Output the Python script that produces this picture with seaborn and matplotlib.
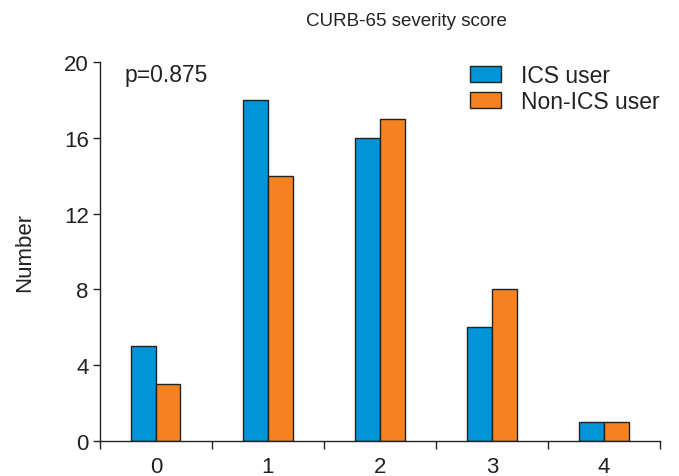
import matplotlib
matplotlib.use("Agg")
import matplotlib.pyplot as plt
import seaborn as sns
import pandas as pd
from matplotlib.ticker import FixedLocator

categories = ["0", "1", "2", "3", "4"]
ics_user = [5, 18, 16, 6, 1]
non_ics_user = [3, 14, 17, 8, 1]
series_names = ["ICS user", "Non-ICS user"]
y_ticks = [0, 4, 8, 12, 16, 20]

sns.set_theme(style="ticks")
plt.rcParams['font.family'] = ['Liberation Sans', 'DejaVu Sans']

df = pd.DataFrame({
    "score": categories * 2,
    "value": ics_user + non_ics_user,
    "group": [series_names[0]] * len(categories) + [series_names[1]] * len(categories),
})

fig = plt.figure(figsize=(6.79, 4.77), dpi=100)
ax = fig.add_axes([0.147, 0.073, 0.825, 0.795])
sns.barplot(data=df, x="score", y="value", hue="group", order=categories,
            hue_order=series_names, palette=["#0095D8", "#F58220"],
            width=0.44, edgecolor="#222222", linewidth=1.0, saturation=1,
            ax=ax, errorbar=None)

ax.set_xlim(-0.5, 4.5)
ax.set_ylim(0, 20)
ax.set_yticks(y_ticks)
ax.tick_params(axis="y", labelsize=16, length=5, width=1, direction="out", colors="#222222", pad=3)
ax.tick_params(axis="x", which="major", length=0, labelsize=16, pad=11, colors="#222222")
ax.xaxis.set_minor_locator(FixedLocator([-0.5, 0.5, 1.5, 2.5, 3.5, 4.5]))
ax.tick_params(axis="x", which="minor", length=6, width=1, direction="out", color="#222222")
for s in ["top", "right"]:
    ax.spines[s].set_visible(False)
for s in ["left", "bottom"]:
    ax.spines[s].set_color("#222222")
    ax.spines[s].set_linewidth(1)

ax.set_xlabel("")
ax.set_ylabel("Number", fontsize=16, labelpad=21, color="#222222")
fig.text(0.598, 0.954, "CURB-65 severity score", ha="center", va="center", fontsize=13.5, color="#222222")
ax.text(0.045, 0.968, "p=0.875", transform=ax.transAxes, ha="left", va="center", fontsize=16.5, color="#222222")

leg = ax.legend(loc="upper right", bbox_to_anchor=(1.015, 1.018), borderaxespad=0, frameon=False, fontsize=16.5,
                handlelength=1.35, handleheight=0.68, handletextpad=0.85, labelspacing=0.12)
for t in leg.get_texts():
    t.set_color("#222222")

fig.savefig("out.png", dpi=100)
